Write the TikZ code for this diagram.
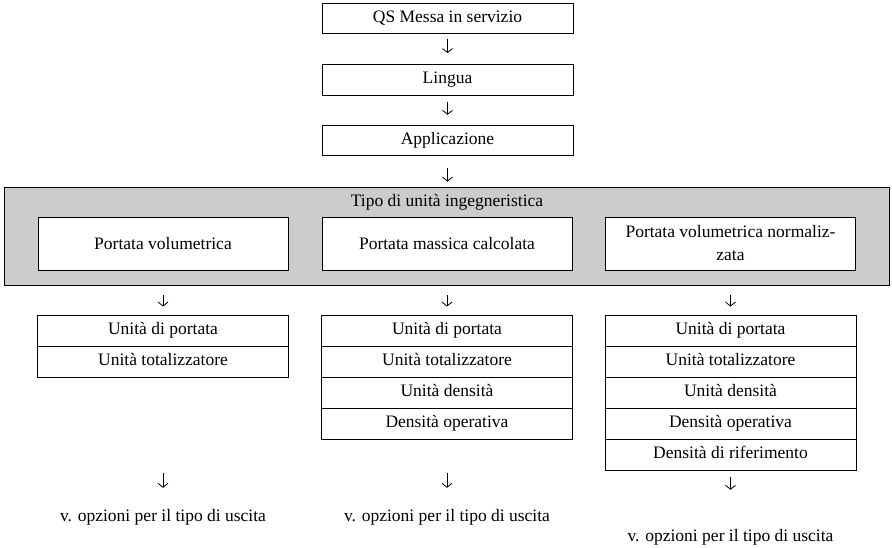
\documentclass[tikz,border=0pt]{standalone}
\usepackage{fontspec}
\setmainfont{Liberation Serif}
\usetikzlibrary{arrows.meta}
\newcommand\myfs{\fontsize{17.5}{23}\selectfont}
\begin{document}
\begin{tikzpicture}[x=1pt,y=-1pt,
  box/.style={draw,line width=0.9pt,minimum width=251pt,inner sep=0pt,font=\myfs,text height=12pt,text depth=4pt},
  inbox/.style={draw,fill=white,line width=0.9pt,minimum width=250pt,minimum height=53pt,inner sep=0pt,font=\myfs,align=center},
  rowbox/.style={draw,line width=0.9pt,minimum width=251pt,minimum height=31pt,inner sep=0pt,font=\myfs,text height=12pt,text depth=4pt},
  plain/.style={inner sep=0pt,font=\myfs,text height=12pt,text depth=4pt},
  flow/.style={line width=0.8pt,-{Straight Barb[length=4pt,width=10pt]}}]
\useasboundingbox (0,0) rectangle (892,548);
% top chain
\node[box,minimum height=30pt] (qs) at (447.5,18.3) {QS Messa in servizio};
\node[box,minimum height=31pt] (lin) at (447.5,80) {Lingua};
\node[box,minimum height=30.7pt] (app) at (447.5,140.6) {Applicazione};
% grey group
\node[draw,fill=gray!40,line width=0.9pt,minimum width=884.5pt,minimum height=98pt,inner sep=0pt] (tipo) at (446.75,236) {};
\node[plain] (tit) at (447,203) {Tipo di unità ingegneristica};
\node[inbox] (pv) at (163,243.5) {Portata volumetrica};
\node[inbox] (pm) at (447,243.5) {Portata massica calcolata};
\node[inbox] (pn) at (730.5,243.5) {Portata volumetrica normaliz-\\zata};
% columns
\node[rowbox] (c1a) at (163,330.5) {Unità di portata};
\node[rowbox] (c1b) at (163,361.5) {Unità totalizzatore};
\node[rowbox] (c2a) at (447,330.5) {Unità di portata};
\node[rowbox] (c2b) at (447,361.5) {Unità totalizzatore};
\node[rowbox] (c2c) at (447,392.5) {Unità densità};
\node[rowbox] (c2d) at (447,423.5) {Densità operativa};
\node[rowbox] (c3a) at (730.5,330.5) {Unità di portata};
\node[rowbox] (c3b) at (730.5,361.5) {Unità totalizzatore};
\node[rowbox] (c3c) at (730.5,392.5) {Unità densità};
\node[rowbox] (c3d) at (730.5,423.5) {Densità operativa};
\node[rowbox] (c3e) at (730.5,454.5) {Densità di riferimento};
% outputs
\node[plain] (o1) at (163,517) {v. opzioni per il tipo di uscita};
\node[plain] (o2) at (447,517) {v. opzioni per il tipo di uscita};
\node[plain] (o3) at (730.5,537) {v. opzioni per il tipo di uscita};
% arrows
\draw[flow,shorten <=5pt,shorten >=11pt] (qs.south) -- (lin.north);
\draw[flow,shorten <=6pt,shorten >=10pt] (lin.south) -- (app.north);
\draw[flow,shorten <=12pt,shorten >=5pt] (app.south) -- (app.south |- tipo.north);
\draw[flow,shorten <=10pt,shorten >=8pt] (pv.south |- tipo.south) -- (c1a.north);
\draw[flow,shorten <=10pt,shorten >=8pt] (pm.south |- tipo.south) -- (c2a.north);
\draw[flow,shorten <=10pt,shorten >=8pt] (pn.south |- tipo.south) -- (c3a.north);
\draw[flow,shorten <=96pt,shorten >=21pt] (c1b.south) -- (o1.north);
\draw[flow,shorten <=34pt,shorten >=21pt] (c2d.south) -- (o2.north);
\draw[flow,shorten <=7pt,shorten >=39pt] (c3e.south) -- (o3.north);
\end{tikzpicture}
\end{document}
